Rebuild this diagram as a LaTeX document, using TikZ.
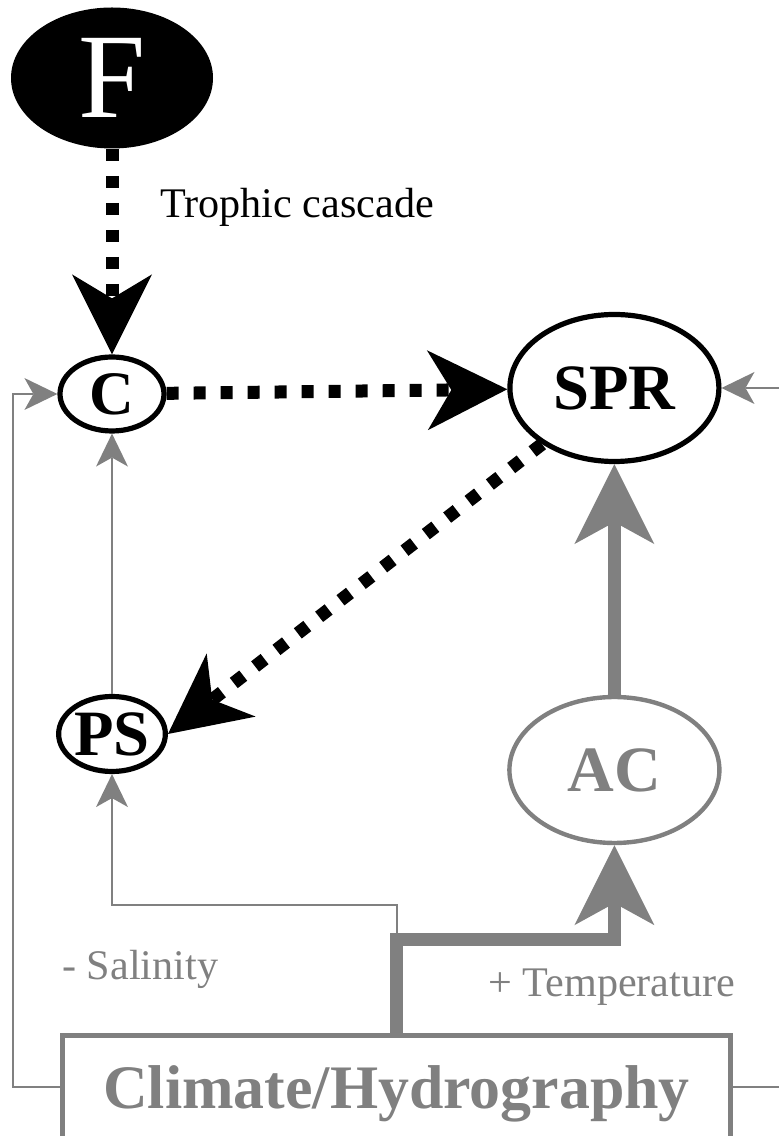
\documentclass[tikz,border=0pt]{standalone}
\usepackage{fontspec}
\setmainfont{Liberation Serif}
\usetikzlibrary{shapes.geometric}
\usetikzlibrary{arrows.meta}
\tikzstyle{species}=[draw, ellipse, line width=0.13cm, inner sep=0pt, font=\fontsize{46}{50}\selectfont\bfseries]
\tikzstyle{gspecies}=[species, draw=gray, text=gray, line width=0.11cm]
\tikzstyle{effect}=[font=\fontsize{30}{34}\selectfont, inner sep=0pt]
\tikzstyle{cascade}=[line width=0.325cm, dash pattern=on 0.3cm off 0.375cm, -{Stealth[length=2cm, width=2cm, inset=0.6cm, line width=0pt]}]
\tikzstyle{forcing}=[gray, line width=0.325cm, -{Stealth[length=2cm, width=2cm, inset=0.55cm, line width=0pt]}]
\tikzstyle{link}=[gray, line width=0.05cm, -{Stealth[length=0.825cm, width=0.8cm, inset=0.225cm, line width=0pt]}]

\begin{document}
\begin{tikzpicture}
        \useasboundingbox (0, 0) rectangle (19.45, 28.4);
        \node[ellipse, fill=black, text=white, inner sep=0pt, minimum width=5.05cm, minimum height=3.525cm, font=\fontsize{86}{90}\selectfont] (F) at (2.8, 26.45) {F};
        \node[species, minimum width=2.6cm, minimum height=1.85cm, font=\fontsize{44}{48}\selectfont\bfseries] (C) at (2.8, 18.55) {C};
        \node[species, minimum width=5.225cm, minimum height=3.675cm] (SPR) at (15.36, 18.7) {SPR};
        \node[species, minimum width=2.625cm, minimum height=1.875cm] (PS) at (2.8, 10.05) {PS};
        \node[gspecies, minimum width=5.25cm, minimum height=3.65cm] (AC) at (15.36, 9.15) {AC};
        \node[draw=gray, text=gray, line width=0.125cm, anchor=north, minimum width=16.7cm, minimum height=3.65cm, text height=1cm, text depth=1cm, font=\fontsize{44}{48}\selectfont\bfseries] (climate) at (9.9125, 2.58) {Climate/Hydrography};
        \node[effect, anchor=base west] (trophic) at (4.0, 22.95) {Trophic cascade};
        \node[effect, text=gray, anchor=base west] (salinity) at (1.55, 3.9) {- Salinity};
        \node[effect, text=gray, anchor=base west] (temperature) at (12.2, 3.475) {+ Temperature};
        \coordinate (Lcorner) at (0.325, 1.225);
        \coordinate (Rcorner) at (20.5, 1.225);
        \coordinate (Sbend) at (9.9125, 5.775);
        \coordinate (Tbend) at (9.9125, 4.9);
        % thin links from climate
        \draw[link] (Lcorner -| climate.west) -- (Lcorner) |- (C.west);
        \draw[link] (Rcorner -| climate.east) -- (Rcorner) |- (SPR.east);
        \draw[link] (climate.north) -- (Sbend) -| (PS.south);
        \draw[link] (PS) -- (C);
        % temperature pathway
        \draw[forcing] (climate.north) -- (Tbend) -| (AC.south);
        \draw[forcing] (AC) -- (SPR);
        % trophic cascade
        \draw[cascade] (F) -- (C);
        \draw[cascade] (C) -- (SPR);
        \draw[cascade] (SPR) -- (PS.east);
    \end{tikzpicture}
\end{document}
